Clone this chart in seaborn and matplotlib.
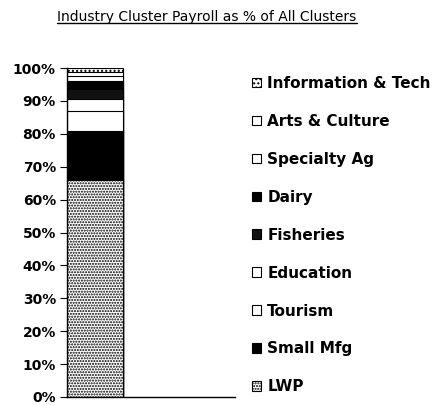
import matplotlib
matplotlib.use("Agg")
import matplotlib.pyplot as plt
import seaborn as sns
import numpy as np
import pandas as pd
from matplotlib.patches import Patch
from matplotlib.lines import Line2D

sns.set_style("white")
plt.rcParams['font.family'] = ['DejaVu Sans']
plt.rcParams['hatch.linewidth'] = 1.0
plt.rcParams['text.color'] = 'black'
plt.rcParams['xtick.color'] = 'black'
plt.rcParams['ytick.color'] = 'black'

# Data (bottom to top)
clusters = ["LWP", "Small Mfg", "Tourism", "Education", "Fisheries",
            "Dairy", "Specialty Ag", "Arts & Culture", "Information & Tech"]
shares = [66.0, 15.0, 6.0, 3.5, 3.0, 2.5, 1.5, 1.2, 1.3]
facecolors = ["white", "black", "white", "white", "#111111",
              "black", "white", "white", "white"]
hatches = ["......", None, None, None, None, None, None, None, "...."]
title = "Industry Cluster Payroll as % of All Clusters"
yticklabels = ["0%", "10%", "20%", "30%", "40%", "50%", "60%", "70%", "80%", "90%", "100%"]

df = pd.DataFrame({"cluster": clusters, "share": np.array(shares) / 100.0})
df["cum"] = df["share"].cumsum()
df["grp"] = "All"

fig = plt.figure(figsize=(4.36, 4.05), dpi=100)
ax = fig.add_axes([67/436, 8/405, (235-67)/436, (397-68)/405])

for i in range(len(df) - 1, -1, -1):
    row = df.iloc[[i]]
    kw = dict(edgecolor="black", linewidth=0.8)
    if hatches[i]:
        kw["hatch"] = hatches[i]
    sns.barplot(data=row, x="grp", y="cum", color=facecolors[i], saturation=1,
                width=0.8, ax=ax, **kw)

ax.set_xlim(-0.4, 2.0)
ax.set_ylim(0, 1.0)
ax.set_yticks(np.linspace(0, 1, 11))
ax.set_yticklabels(yticklabels, fontsize=10, fontweight="bold", color="black")
ax.set_xticks([1.243, 1.829])
ax.set_xticklabels(["", ""])
ax.tick_params(axis="x", length=2, width=0.8, direction="out", colors="black")
ax.tick_params(axis="y", length=5, width=0.8, direction="out", pad=3, left=True, colors="black")
ax.set_xlabel("")
ax.set_ylabel("")
for s in ["top", "right"]:
    ax.spines[s].set_visible(False)
for s in ["left", "bottom"]:
    ax.spines[s].set_color("black")
    ax.spines[s].set_linewidth(1.0)

# Legend (top to bottom)
handles = []
for i in range(len(df) - 1, -1, -1):
    handles.append(Patch(facecolor=facecolors[i], edgecolor="black",
                         hatch=hatches[i], linewidth=0.8, label=clusters[i]))
leg = fig.legend(handles=handles, loc="upper left", bbox_to_anchor=(252/436, 1 - 76/405),
                 frameon=False, prop={"size": 11, "weight": "bold"},
                 handlelength=0.6, handleheight=0.6, handletextpad=0.4,
                 labelspacing=1.5, borderpad=0, borderaxespad=0)
for txt in leg.get_texts():
    txt.set_color("black")

t = fig.text(207/436, 1 - 17/405, title, ha="center", va="center", fontsize=10, color="black")
fig.canvas.draw()
bb = t.get_window_extent().transformed(fig.transFigure.inverted())
fig.add_artist(Line2D([bb.x0, bb.x1], [bb.y0 + 0.002, bb.y0 + 0.002],
                      transform=fig.transFigure, color="black", linewidth=1.0))

fig.savefig("out.png", dpi=100)
